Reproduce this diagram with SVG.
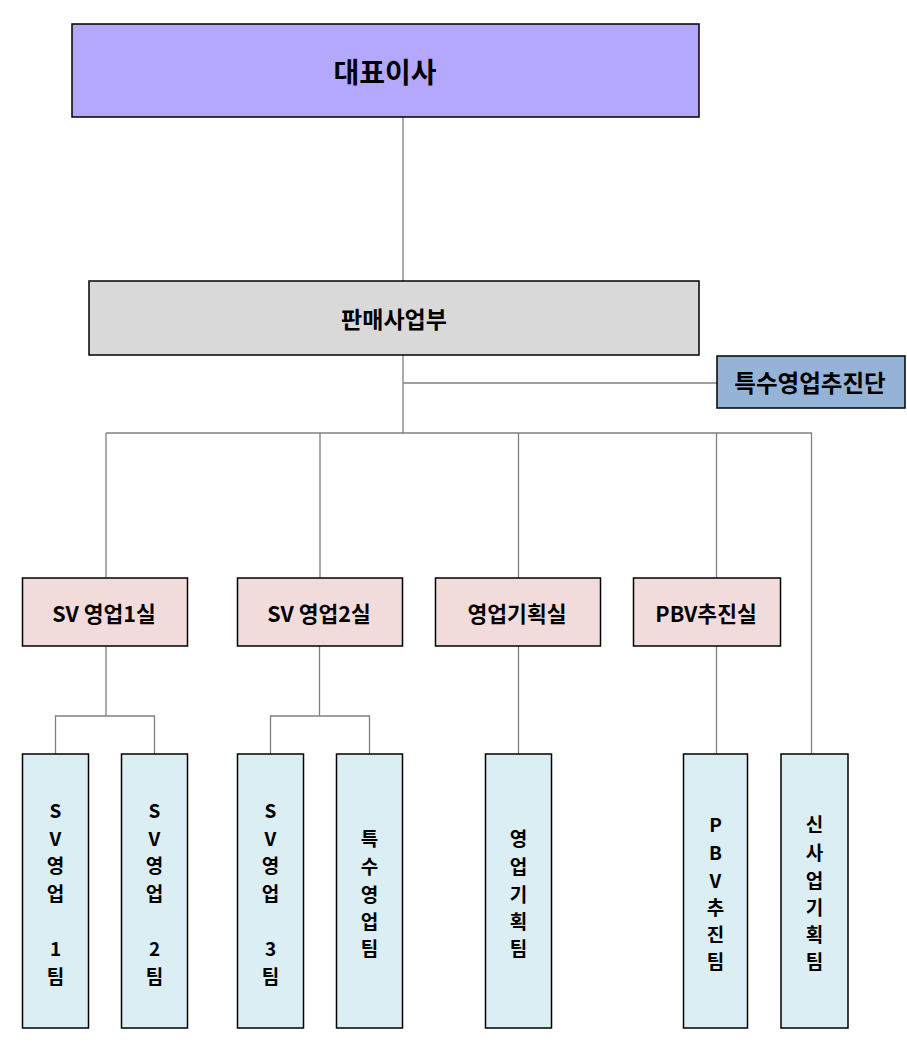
<svg xmlns="http://www.w3.org/2000/svg" width="907" height="1055" viewBox="0 0 907 1055">
<style>
text{font-family:"Noto Sans CJK KR","Liberation Sans",sans-serif;font-weight:bold;fill:#000;text-anchor:middle;dominant-baseline:central}
.box{stroke:#000;stroke-width:1.5}
.c{stroke:#808080;stroke-width:1.3;fill:none}
.l3{fill:#daeef3}
.l2{fill:#f2dcdb}
.v{font-size:19px}
.h2{font-size:21.5px}
</style>
<rect width="907" height="1055" fill="#fff"/>
<g id="connectors">
<path class="c" d="M403 117V281M403 355V433M403 383H717M106 433H812M106 433V578M320 433V578M518.5 433V578M716.5 433V578M811.5 433V754"/>
<path class="c" d="M106 646V716M55.5 754V716H154.5V754M319.5 646V716M270.5 754V716H369.5V754M518.5 646V754M716.5 646V754"/>
</g>
<g id="ceo"><rect class="box" x="72" y="24" width="627" height="93" fill="#b4a7fe"/><text x="385" y="71" font-size="28">대표이사</text></g>
<g id="sales"><rect class="box" x="89" y="281" width="610" height="74" fill="#d9d9d9"/><text x="394" y="318" font-size="23">판매사업부</text></g>
<g id="special"><rect class="box" x="717" y="356" width="188" height="52" fill="#95b3d7"/><text x="810" y="382" font-size="23.5">특수영업추진단</text></g>
<g id="sv1"><rect class="box l2" x="22.5" y="578" width="165" height="68"/><text class="h2" x="104" y="612">SV 영업1실</text></g>
<g id="sv2"><rect class="box l2" x="237.5" y="578" width="165" height="68"/><text class="h2" x="319" y="612">SV 영업2실</text></g>
<g id="plan"><rect class="box l2" x="435.5" y="578" width="165" height="68"/><text class="h2" x="517" y="612">영업기획실</text></g>
<g id="pbv"><rect class="box l2" x="633.5" y="578" width="147" height="68"/><text class="h2" x="706" y="612">PBV추진실</text></g>
<g id="t1"><rect class="box l3" x="22.5" y="754" width="66" height="274"/><text class="v" x="55.5"><tspan x="55.5" y="809">S</tspan><tspan x="55.5" y="837">V</tspan><tspan x="55.5" y="864">영</tspan><tspan x="55.5" y="892">업</tspan><tspan x="55.5" y="947">1</tspan><tspan x="55.5" y="975">팀</tspan></text></g>
<g id="t2"><rect class="box l3" x="121.5" y="754" width="66" height="274"/><text class="v" x="154.5"><tspan x="154.5" y="809">S</tspan><tspan x="154.5" y="837">V</tspan><tspan x="154.5" y="864">영</tspan><tspan x="154.5" y="892">업</tspan><tspan x="154.5" y="947">2</tspan><tspan x="154.5" y="975">팀</tspan></text></g>
<g id="t3"><rect class="box l3" x="237.5" y="754" width="66" height="274"/><text class="v" x="270.5"><tspan x="270.5" y="809">S</tspan><tspan x="270.5" y="837">V</tspan><tspan x="270.5" y="864">영</tspan><tspan x="270.5" y="892">업</tspan><tspan x="270.5" y="947">3</tspan><tspan x="270.5" y="975">팀</tspan></text></g>
<g id="t4"><rect class="box l3" x="336.5" y="754" width="66" height="274"/><text class="v" x="369.5"><tspan x="369.5" y="837">특</tspan><tspan x="369.5" y="865">수</tspan><tspan x="369.5" y="893">영</tspan><tspan x="369.5" y="920">업</tspan><tspan x="369.5" y="947">팀</tspan></text></g>
<g id="t5"><rect class="box l3" x="485.5" y="754" width="66" height="274"/><text class="v" x="518.5"><tspan x="518.5" y="837">영</tspan><tspan x="518.5" y="865">업</tspan><tspan x="518.5" y="893">기</tspan><tspan x="518.5" y="920">획</tspan><tspan x="518.5" y="947">팀</tspan></text></g>
<g id="t6"><rect class="box l3" x="683.5" y="754" width="64" height="274"/><text class="v" x="715.5"><tspan x="715.5" y="823">P</tspan><tspan x="715.5" y="851">B</tspan><tspan x="715.5" y="879">V</tspan><tspan x="715.5" y="906">추</tspan><tspan x="715.5" y="933">진</tspan><tspan x="715.5" y="960">팀</tspan></text></g>
<g id="t7"><rect class="box l3" x="781" y="754" width="67" height="274"/><text class="v" x="814.5"><tspan x="814.5" y="823">신</tspan><tspan x="814.5" y="851">사</tspan><tspan x="814.5" y="879">업</tspan><tspan x="814.5" y="906">기</tspan><tspan x="814.5" y="933">획</tspan><tspan x="814.5" y="960">팀</tspan></text></g>
</svg>
